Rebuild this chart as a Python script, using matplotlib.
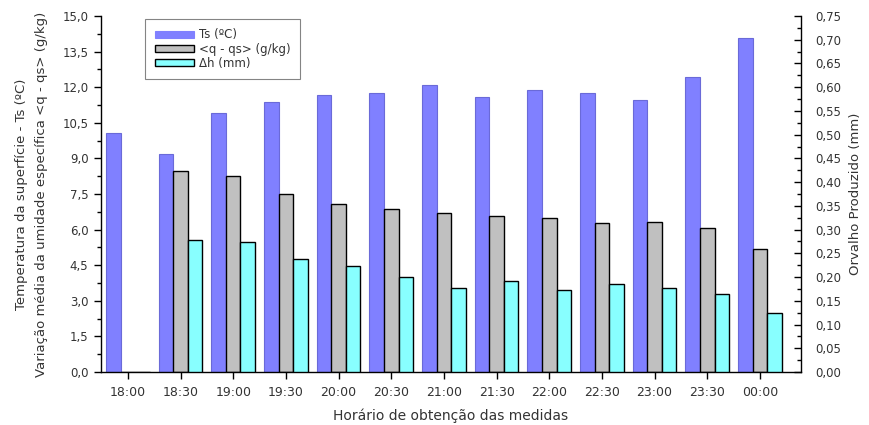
import numpy as np
import matplotlib.pyplot as plt
from matplotlib.ticker import MultipleLocator, FuncFormatter

plt.rcParams['font.family'] = ['DejaVu Sans']

# Medidas a cada 30 minutos
horarios = ['18:00', '18:30', '19:00', '19:30', '20:00', '20:30', '21:00',
            '21:30', '22:00', '22:30', '23:00', '23:30', '00:00']
ts = [10.05, 9.17, 10.9, 11.38, 11.66, 11.75, 12.08, 11.58, 11.88, 11.75,
      11.48, 12.45, 14.07]              # Ts (ºC)
q_qs = [0.0, 8.48, 8.25, 7.48, 7.06, 6.88, 6.68, 6.56, 6.48, 6.27,
        6.34, 6.05, 5.17]                # <q - qs> (g/kg)
dh = [0.0, 0.278, 0.273, 0.238, 0.224, 0.20, 0.178, 0.192, 0.172, 0.186,
      0.178, 0.164, 0.125]               # Δh (mm)

azul = '#8080FF'
cinza = '#C0C0C0'
ciano = '#88FFFF'
texto = '#333333'

fig = plt.figure(figsize=(8.69, 4.25), dpi=100)
ax = fig.add_axes([0.1162, 0.1247, 0.8056, 0.8377])
ax2 = ax.twinx()

x = np.arange(len(horarios))
w = 0.277

b1 = ax.bar(x - w, ts, w, color=azul, edgecolor='#6a6ad8', linewidth=0.8,
            label='Ts (ºC)')
b2 = ax.bar(x, q_qs, w, color=cinza, edgecolor='black', linewidth=1.0,
            label='<q - qs> (g/kg)')
b3 = ax2.bar(x + w, dh, w, color=ciano, edgecolor='black', linewidth=1.0,
             label='Δh (mm)')

ax.set_xlim(-0.51, 12.78)
ax.set_ylim(0, 15)
ax2.set_ylim(0, 0.75)

virgula1 = FuncFormatter(lambda v, p: f'{v:.1f}'.replace('.', ','))
virgula2 = FuncFormatter(lambda v, p: f'{v:.2f}'.replace('.', ','))

ax.yaxis.set_major_locator(MultipleLocator(1.5))
ax.yaxis.set_minor_locator(MultipleLocator(0.75))
ax.yaxis.set_major_formatter(virgula1)
ax2.yaxis.set_major_locator(MultipleLocator(0.05))
ax2.yaxis.set_minor_locator(MultipleLocator(0.025))
ax2.yaxis.set_major_formatter(virgula2)

ax.set_xticks(x)
ax.set_xticklabels(horarios)

for a in (ax, ax2):
    a.spines['top'].set_visible(False)
    for s in a.spines.values():
        s.set_linewidth(1.0)
ax.spines['right'].set_visible(False)
ax2.spines['left'].set_visible(False)
ax2.spines['bottom'].set_visible(False)

ax.tick_params(axis='y', which='major', direction='out', length=5, width=1,
               labelsize=8.5, labelcolor=texto, pad=4)
ax.tick_params(axis='y', which='minor', direction='out', length=3, width=1)
ax.tick_params(axis='x', direction='out', length=5, width=1, labelsize=9,
               labelcolor=texto, pad=5)
ax2.tick_params(axis='y', which='major', direction='in', length=5, width=1,
                labelsize=8.5, labelcolor=texto, pad=10)
ax2.tick_params(axis='y', which='minor', direction='in', length=3, width=1)

ax.set_xlabel('Horário de obtenção das medidas', fontsize=10,
              color=texto, labelpad=7)
ax.set_ylabel('Temperatura da superfície - Ts (ºC)\n'
              'Variação média da umidade específica <q - qs> (g/kg)',
              fontsize=9.5, color=texto, labelpad=10, linespacing=1.75)
ax2.set_ylabel('Orvalho Produzido (mm)', fontsize=9.5, color=texto,
               labelpad=6)

leg = ax.legend(handles=[b1, b2, b3], loc='upper left',
                bbox_to_anchor=(0.06, 0.998), fontsize=8.5, frameon=True,
                fancybox=False, edgecolor='#666666', handlelength=3.3,
                handleheight=0.6, borderpad=0.8, labelspacing=0.1,
                handletextpad=0.45, borderaxespad=0.2)
leg.get_frame().set_linewidth(0.8)
for t in leg.get_texts():
    t.set_color(texto)
leg.legend_handles[0].set_edgecolor(azul)

fig.savefig('out.png', dpi=100)
